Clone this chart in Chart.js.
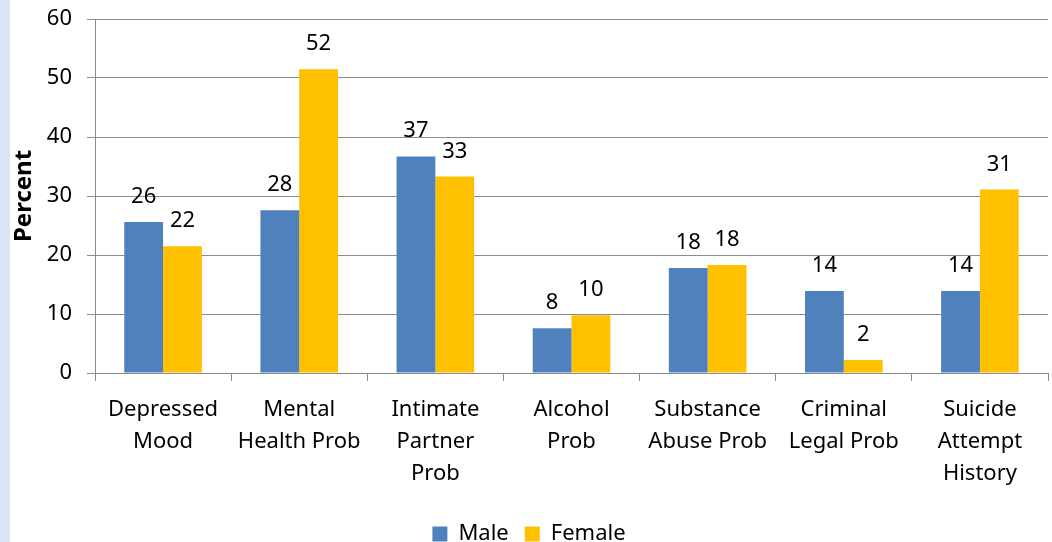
<!DOCTYPE html>
<html>
<head>
<meta charset="utf-8">
<script src="https://cdn.jsdelivr.net/npm/chart.js@4"></script>
<style>
  html, body { margin: 0; padding: 0; background: #ffffff; }
  #wrap { position: relative; width: 1052px; height: 542px; }
  #strip { position: absolute; left: 0; top: 0; width: 10px; height: 542px; background: #dbe5f4; }
  canvas { position: absolute; left: 0; top: 0; }
</style>
</head>
<body>
<div id="wrap">
  <div id="strip"></div>
  <canvas id="chart" width="1052" height="542"></canvas>
</div>
<script>
const categories = [
    ['Depressed', 'Mood'],
    ['Mental', 'Health Prob'],
    ['Intimate', 'Partner', 'Prob'],
    ['Alcohol', 'Prob'],
    ['Substance', 'Abuse Prob'],
    ['Criminal', 'Legal Prob'],
    ['Suicide', 'Attempt', 'History']
];
const maleValues = [25.6, 27.6, 36.7, 7.6, 17.8, 13.9, 13.9];
const femaleValues = [21.5, 51.5, 33.3, 9.8, 18.3, 2.2, 31.1];
// labels as printed on the chart (rounded)
const maleLabels = [26, 28, 37, 8, 18, 14, 14];
const femaleLabels = [22, 52, 33, 10, 18, 2, 31];
const yTicks = [0, 10, 20, 30, 40, 50, 60];

const fontFamily = "'Noto Sans', 'Open Sans', sans-serif";
const gridColor = '#8c8c8c';

// draws the numbers above the bars
const barLabels = {
    id: 'barLabels',
    afterDatasetsDraw(chart) {
        const ctx = chart.ctx;
        const sets = [maleLabels, femaleLabels];
        ctx.save();
        ctx.font = '22px ' + fontFamily;
        ctx.fillStyle = '#000000';
        ctx.textAlign = 'center';
        ctx.textBaseline = 'alphabetic';
        chart.data.datasets.forEach(function (ds, i) {
            const meta = chart.getDatasetMeta(i);
            meta.data.forEach(function (bar, j) {
                ctx.fillText(String(sets[i][j]), bar.x, bar.y - 19);
            });
        });
        ctx.restore();
    }
};

const config = {
    type: 'bar',
    data: {
        labels: categories,
        datasets: [{
            label: 'Male',
            data: maleValues,
            backgroundColor: '#4f81bd',
            borderWidth: 0,
            categoryPercentage: 0.57,
            barPercentage: 1.0
        }, {
            label: 'Female',
            data: femaleValues,
            backgroundColor: '#ffc000',
            borderWidth: 0,
            categoryPercentage: 0.57,
            barPercentage: 1.0
        }]
    },
    options: {
        responsive: false,
        animation: false,
        layout: { padding: { left: 10, right: 4, top: 19, bottom: -13 } },
        plugins: {
            legend: {
                position: 'bottom',
                labels: {
                    boxWidth: 15,
                    boxHeight: 15,
                    padding: 16,
                    color: '#000000',
                    font: { family: fontFamily, size: 22 }
                }
            },
            tooltip: { enabled: false }
        },
        scales: {
            x: {
                grid: {
                    display: true,
                    offset: true,
                    drawOnChartArea: false,
                    drawTicks: true,
                    tickLength: 8,
                    color: gridColor
                },
                border: { display: true, color: gridColor, width: 1 },
                ticks: {
                    color: '#000000',
                    padding: 13,
                    maxRotation: 0,
                    autoSkip: false,
                    font: { family: fontFamily, size: 22, lineHeight: 1.45 }
                },
                afterFit(scale) { scale.height = 134; }
            },
            y: {
                min: 0,
                max: 60,
                afterBuildTicks(scale) {
                    scale.ticks = yTicks.map(function (v) { return { value: v }; });
                },
                grid: {
                    color: gridColor,
                    tickLength: 8,
                    drawTicks: true
                },
                border: { display: true, color: gridColor, width: 1 },
                ticks: {
                    color: '#000000',
                    padding: 15,
                    font: { family: fontFamily, size: 22 }
                },
                title: {
                    display: true,
                    text: 'Percent',
                    color: '#000000',
                    padding: { top: 0, bottom: 0 },
                    font: { family: fontFamily, size: 24, weight: 'bold' }
                },
                afterFit(scale) {
                    scale.width = 85;
                    scale.paddingTop = 0;
                    scale.paddingBottom = 0;
                }
            }
        }
    },
    plugins: [barLabels]
};

const myChart = new Chart(document.getElementById('chart'), config);
</script>
</body>
</html>
